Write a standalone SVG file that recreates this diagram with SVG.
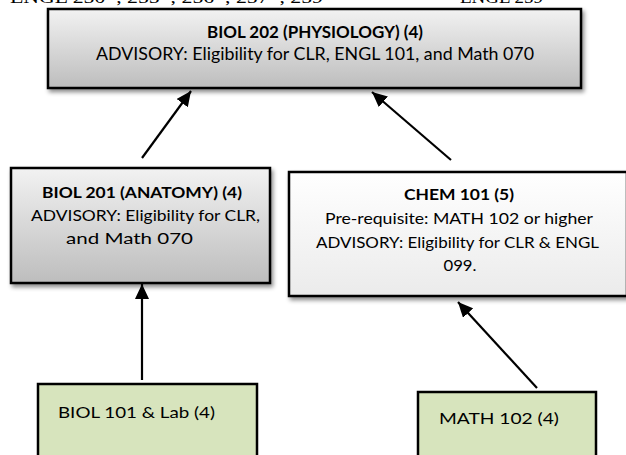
<svg xmlns="http://www.w3.org/2000/svg" width="626" height="455" viewBox="0 0 626 455">
<style>
.box{stroke:#000;stroke-width:2.5}
.t{font-family:Lato,"Open Sans","DejaVu Sans",sans-serif;fill:#000}
.b{font-weight:bold}
.c{text-anchor:middle}
.conn{stroke:#000;stroke-width:2.2;fill:none}
.frag{font-family:"Liberation Serif",serif;font-size:16px;fill:#000}
</style>
<defs>
<linearGradient id="gray" x1="0" y1="0" x2="0" y2="1">
<stop offset="0" stop-color="#f2f2f2"/>
<stop offset="1" stop-color="#bdbdbd"/>
</linearGradient>
<linearGradient id="light" x1="0" y1="0" x2="0" y2="1">
<stop offset="0" stop-color="#ffffff"/>
<stop offset="1" stop-color="#ebebeb"/>
</linearGradient>
<filter id="sh" x="-10%" y="-10%" width="130%" height="140%">
<feDropShadow dx="2" dy="3" stdDeviation="2" flood-color="#000" flood-opacity="0.45"/>
</filter>
<marker id="ah" markerUnits="userSpaceOnUse" markerWidth="16" markerHeight="14" refX="15" refY="7" orient="auto">
<path d="M0,0 L15,7 L0,14 z" fill="#000"/>
</marker>
</defs>
<text class="frag" x="10" y="3" textLength="313" lengthAdjust="spacingAndGlyphs">ENGL 250*, 255*, 256*, 257*, 259</text>
<text class="frag" x="460" y="3" textLength="83" lengthAdjust="spacingAndGlyphs">ENGL 259</text>
<g id="connectors">
<line class="conn" x1="142" y1="158" x2="191" y2="91" marker-end="url(#ah)"/>
<line class="conn" x1="451" y1="160" x2="372" y2="92" marker-end="url(#ah)"/>
<line class="conn" x1="142" y1="380" x2="142" y2="284" marker-end="url(#ah)"/>
<line class="conn" x1="537" y1="388" x2="458" y2="302" marker-end="url(#ah)"/>
</g>
<g id="biol202">
<rect class="box" x="48" y="9" width="533" height="79" fill="url(#gray)" filter="url(#sh)"/>
<text class="t b c" x="315" y="38" font-size="17" textLength="216" lengthAdjust="spacingAndGlyphs">BIOL 202 (PHYSIOLOGY) (4)</text>
<text class="t c" x="315" y="60" font-size="17" textLength="438" lengthAdjust="spacingAndGlyphs">ADVISORY: Eligibility for CLR, ENGL 101, and Math 070</text>
</g>
<g id="biol201">
<rect class="box" x="11" y="168" width="259" height="115" fill="url(#gray)" filter="url(#sh)"/>
<text class="t b c" x="142" y="198" font-size="16" textLength="200" lengthAdjust="spacingAndGlyphs">BIOL 201 (ANATOMY) (4)</text>
<text class="t c" x="145.5" y="221" font-size="16" textLength="229" lengthAdjust="spacingAndGlyphs">ADVISORY: Eligibility for CLR,</text>
<text class="t" x="66" y="244" font-size="16" textLength="127" lengthAdjust="spacingAndGlyphs">and Math 070</text>
</g>
<g id="chem101">
<rect class="box" x="289" y="172" width="338" height="124" fill="url(#light)" filter="url(#sh)"/>
<text class="t b c" x="459" y="200" font-size="15" textLength="110" lengthAdjust="spacingAndGlyphs">CHEM 101 (5)</text>
<text class="t c" x="459" y="224" font-size="15" textLength="268" lengthAdjust="spacingAndGlyphs">Pre-requisite: MATH 102 or higher</text>
<text class="t c" x="457.5" y="248" font-size="15" textLength="283" lengthAdjust="spacingAndGlyphs">ADVISORY: Eligibility for CLR &amp; ENGL</text>
<text class="t c" x="460" y="271" font-size="15" textLength="33" lengthAdjust="spacingAndGlyphs">099.</text>
</g>
<g id="biol101">
<rect class="box" x="38" y="384" width="219" height="80" fill="#d7e4bd"/>
<text class="t" x="58" y="418" font-size="16" textLength="157" lengthAdjust="spacingAndGlyphs">BIOL 101 &amp; Lab (4)</text>
</g>
<g id="math102">
<rect class="box" x="418" y="392" width="178" height="72" fill="#d7e4bd"/>
<text class="t" x="439" y="424" font-size="16" textLength="120" lengthAdjust="spacingAndGlyphs">MATH 102 (4)</text>
</g>
</svg>
